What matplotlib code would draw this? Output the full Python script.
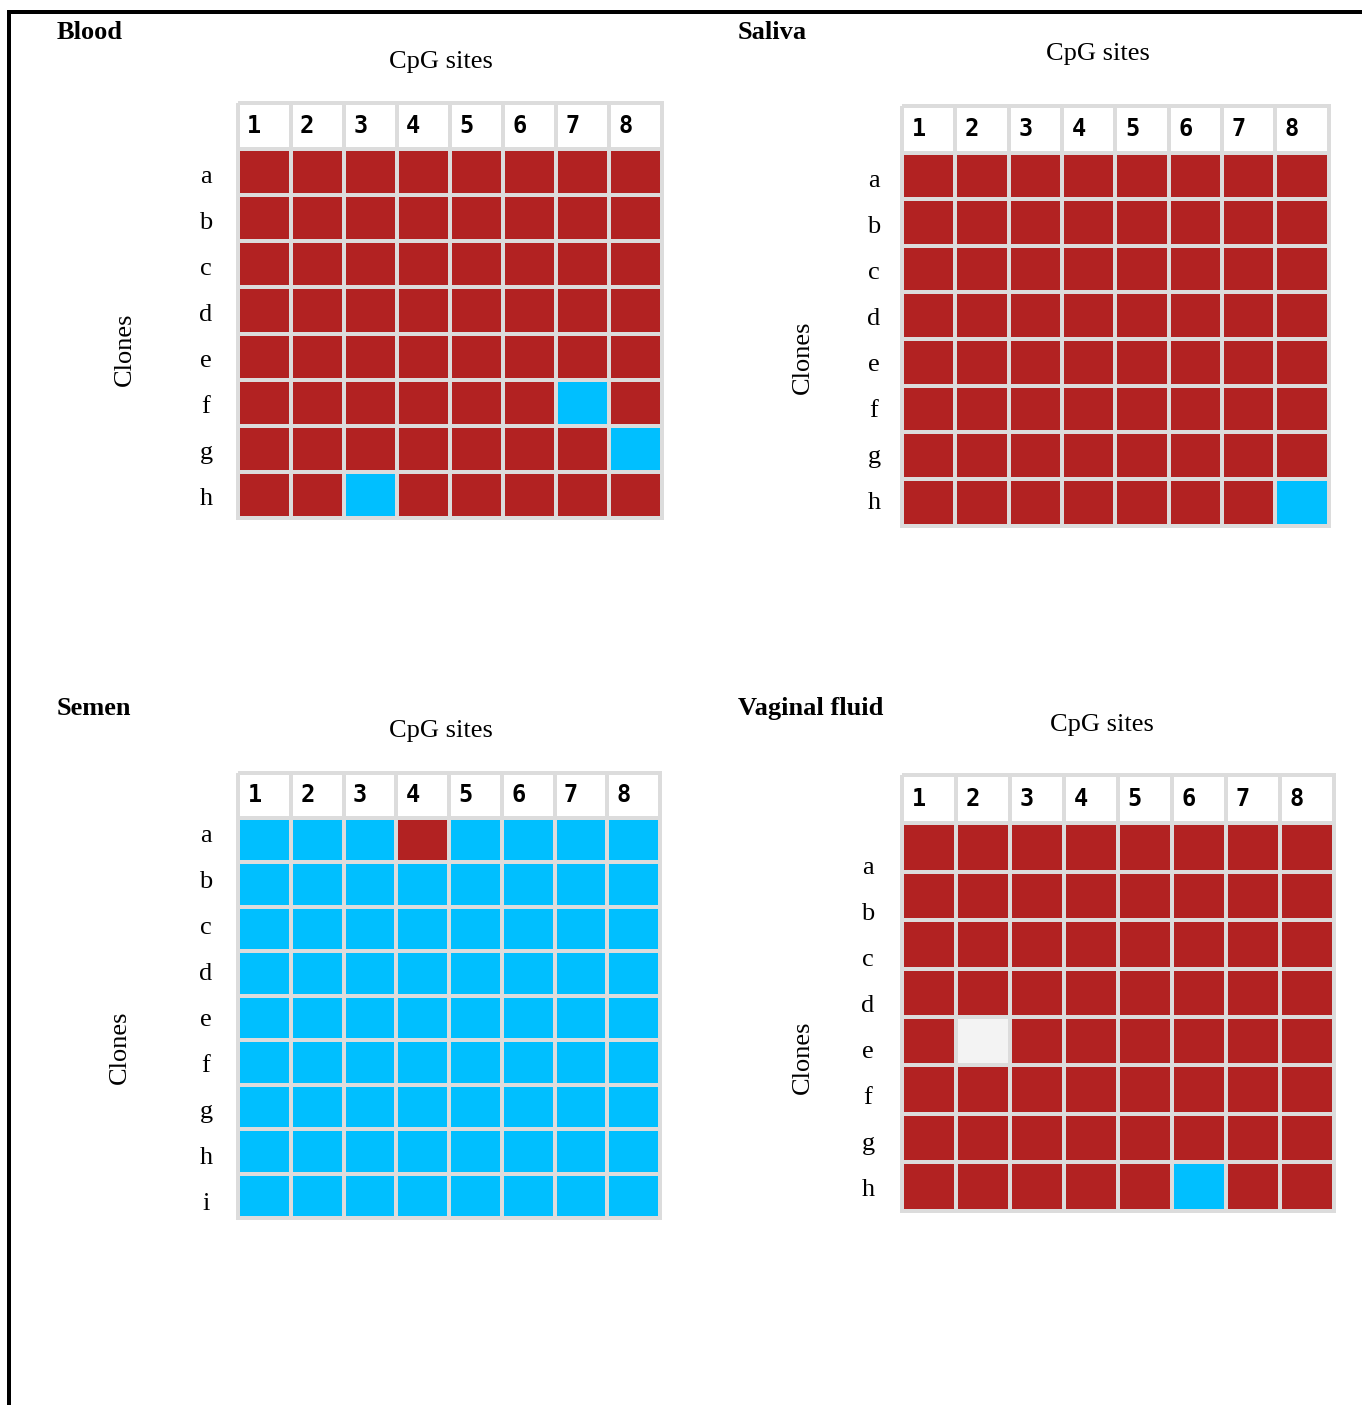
import numpy as np
import matplotlib
matplotlib.use("Agg")
import matplotlib.pyplot as plt
from matplotlib.colors import ListedColormap, BoundaryNorm

W, H = 1362, 1405

# methylation status per clone (rows) and CpG site (columns):
# 1 = methylated, 0 = unmethylated, -1 = not determined
sites = [1, 2, 3, 4, 5, 6, 7, 8]

blood_clones = list("abcdefgh")
blood = [
    [1, 1, 1, 1, 1, 1, 1, 1],
    [1, 1, 1, 1, 1, 1, 1, 1],
    [1, 1, 1, 1, 1, 1, 1, 1],
    [1, 1, 1, 1, 1, 1, 1, 1],
    [1, 1, 1, 1, 1, 1, 1, 1],
    [1, 1, 1, 1, 1, 1, 0, 1],
    [1, 1, 1, 1, 1, 1, 1, 0],
    [1, 1, 0, 1, 1, 1, 1, 1],
]

saliva_clones = list("abcdefgh")
saliva = [
    [1, 1, 1, 1, 1, 1, 1, 1],
    [1, 1, 1, 1, 1, 1, 1, 1],
    [1, 1, 1, 1, 1, 1, 1, 1],
    [1, 1, 1, 1, 1, 1, 1, 1],
    [1, 1, 1, 1, 1, 1, 1, 1],
    [1, 1, 1, 1, 1, 1, 1, 1],
    [1, 1, 1, 1, 1, 1, 1, 1],
    [1, 1, 1, 1, 1, 1, 1, 0],
]

semen_clones = list("abcdefghi")
semen = [
    [0, 0, 0, 1, 0, 0, 0, 0],
    [0, 0, 0, 0, 0, 0, 0, 0],
    [0, 0, 0, 0, 0, 0, 0, 0],
    [0, 0, 0, 0, 0, 0, 0, 0],
    [0, 0, 0, 0, 0, 0, 0, 0],
    [0, 0, 0, 0, 0, 0, 0, 0],
    [0, 0, 0, 0, 0, 0, 0, 0],
    [0, 0, 0, 0, 0, 0, 0, 0],
    [0, 0, 0, 0, 0, 0, 0, 0],
]

vaginal_clones = list("abcdefgh")
vaginal = [
    [1, 1, 1, 1, 1, 1, 1, 1],
    [1, 1, 1, 1, 1, 1, 1, 1],
    [1, 1, 1, 1, 1, 1, 1, 1],
    [1, 1, 1, 1, 1, 1, 1, 1],
    [1, -1, 1, 1, 1, 1, 1, 1],
    [1, 1, 1, 1, 1, 1, 1, 1],
    [1, 1, 1, 1, 1, 1, 1, 1],
    [1, 1, 1, 1, 1, 0, 1, 1],
]

# panel layout in pixels: grid box (x0, y0, x1, y1), title pos, "CpG sites" pos,
# "Clones" pos, row-label x and first baseline
panels = [
    dict(name="Blood", data=blood, clones=blood_clones,
         box=(237.5, 103, 662, 518), title=(57, 39), cpg=(441, 68),
         ylab=(125, 349), rl=(206, 183)),
    dict(name="Saliva", data=saliva, clones=saliva_clones,
         box=(902, 106, 1328.5, 525.5), title=(738, 39), cpg=(1098, 60),
         ylab=(803, 357), rl=(874, 187)),
    dict(name="Semen", data=semen, clones=semen_clones,
         box=(238, 773, 660, 1218), title=(57, 715), cpg=(441, 737),
         ylab=(120, 1047), rl=(206, 842)),
    dict(name="Vaginal fluid", data=vaginal, clones=vaginal_clones,
         box=(902, 775, 1334, 1210.5), title=(738, 715), cpg=(1102, 731),
         ylab=(803, 1057), rl=(868, 874)),
]

RED = "#b22222"
BLUE = "#00bfff"
ND = "#f3f3f3"
GRID = "#dcdcdc"
px = 72 / 100  # points per pixel at dpi 100

cmap = ListedColormap([ND, BLUE, RED, "white"])
norm = BoundaryNorm([-1.5, -0.5, 0.5, 1.5, 2.5], cmap.N)

serif = "Liberation Serif"

fig = plt.figure(figsize=(W / 100, H / 100), dpi=100)
bg = fig.add_axes([0, 0, 1, 1])
bg.set_xlim(0, W)
bg.set_ylim(H, 0)
bg.axis("off")

# frame on top and left
bg.plot([9, 9, W], [H, 12, 12], color="black", lw=4 * px,
        solid_capstyle="butt", solid_joinstyle="miter")

for p in panels:
    x0, y0, x1, y1 = p["box"]
    ax = fig.add_axes([x0 / W, 1 - y1 / H, (x1 - x0) / W, (y1 - y0) / H])
    body = np.array(p["data"])
    grid = np.vstack([np.full((1, body.shape[1]), 2), body])
    ax.pcolormesh(grid, cmap=cmap, norm=norm, edgecolors=GRID,
                  linewidth=4 * px, clip_on=False)
    ax.set_xlim(0, grid.shape[1])
    ax.set_ylim(grid.shape[0], 0)
    ax.axis("off")
    for j, s in enumerate(sites):
        ax.text(j + 0.18, 0.5, str(s), ha="left", va="center",
                fontsize=17, fontweight="bold", family="DejaVu Sans Mono")

    bg.text(*p["title"], p["name"], ha="left", va="baseline",
            fontsize=19, fontweight="bold", family=serif)
    bg.text(*p["cpg"], "CpG sites", ha="center", va="baseline",
            fontsize=19, family=serif)
    bg.text(*p["ylab"], "Clones", ha="center", va="center", rotation=90,
            fontsize=19, family=serif)
    lx, ly = p["rl"]
    for i, c in enumerate(p["clones"]):
        bg.text(lx, ly + 46 * i, c, ha="center", va="baseline",
                fontsize=19, family=serif)

fig.savefig("out.png", dpi=100)
